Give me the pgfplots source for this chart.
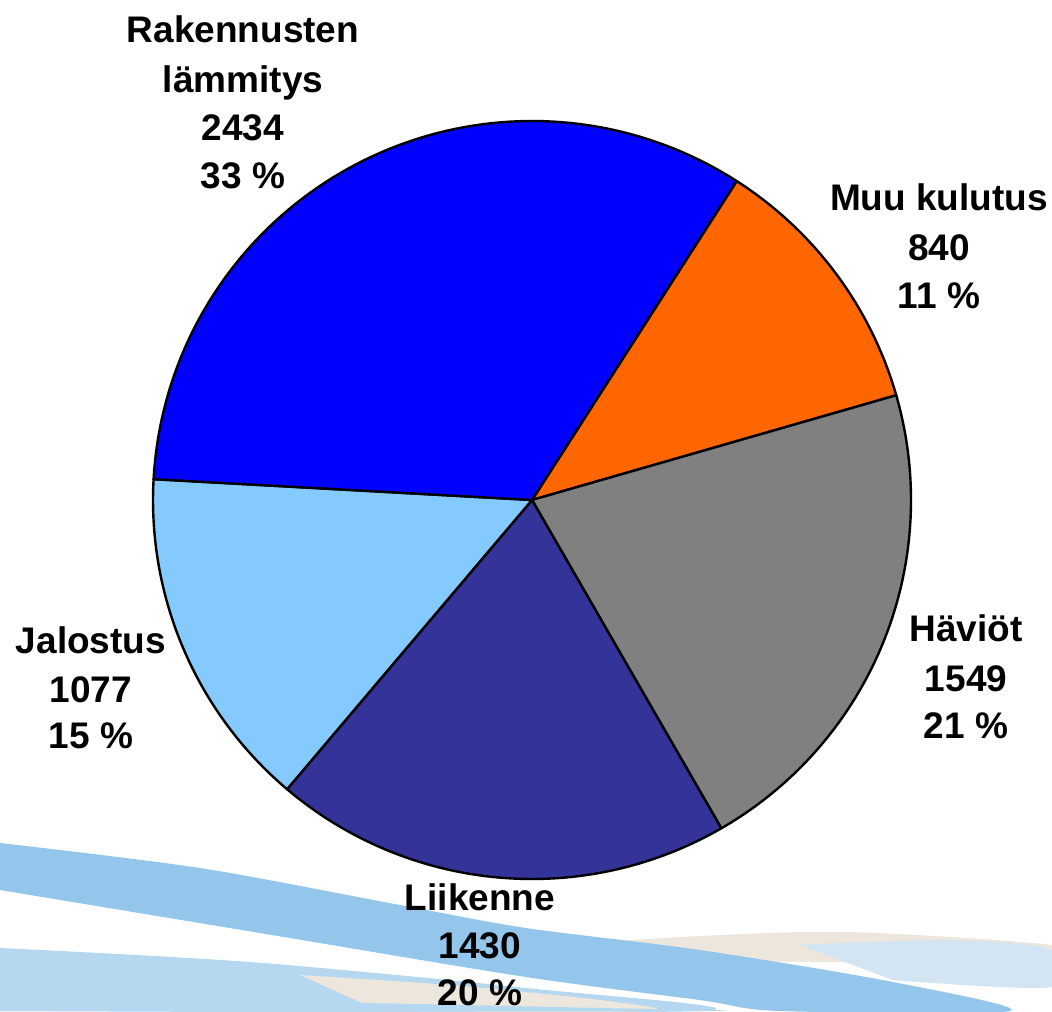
\documentclass[border=0pt]{standalone}
\usepackage{fontspec}
\setmainfont{Liberation Sans}
\usepackage{pgfplots}
\pgfplotsset{compat=1.18}
\usepackage{pgfplotstable}

% slice colours, in table order
\definecolor{pie0}{HTML}{FF6600}% Muu kulutus
\definecolor{pie1}{HTML}{808080}% Haviot
\definecolor{pie2}{HTML}{333399}% Liikenne
\definecolor{pie3}{HTML}{85CAFF}% Jalostus
\definecolor{pie4}{HTML}{0000FF}% Rakennusten lammitys
\definecolor{swooshA}{HTML}{93C6EA}
\definecolor{swooshB}{HTML}{B6D7F0}
\definecolor{swooshC}{HTML}{D3E5F2}
\definecolor{swooshBeige}{HTML}{ECE6DC}

% slices clockwise, starting at the top-right boundary
\pgfplotstableread{
name value
Muu 840
Haviot 1549
Liikenne 1430
Jalostus 1077
Rakennusten 2434
}\pietable

\def\startang{57.3}
\def\cx{532}\def\cy{500}\def\rr{379}

% total and slice angles
\def\tot{0}
\foreach \i in {0,...,4}{%
  \pgfplotstablegetelem{\i}{value}\of\pietable
  \pgfmathsetmacro\t{\tot+\pgfplotsretval}%
  \xdef\tot{\t}%
}
\xdef\cum{\startang}
\foreach \i in {0,...,4}{%
  \pgfplotstablegetelem{\i}{value}\of\pietable
  \pgfmathsetmacro\e{\cum-360*(\pgfplotsretval/\tot)}%
  \expandafter\xdef\csname aS\i\endcsname{\cum}%
  \expandafter\xdef\csname aE\i\endcsname{\e}%
  \xdef\cum{\e}%
}

\newcommand\lbl{\fontsize{18.5}{24}\selectfont\bfseries}

\begin{document}
\begin{tikzpicture}
\begin{axis}[
    width=526pt, height=505.5pt,
    scale only axis,
    xmin=0, xmax=1052,
    ymin=0, ymax=1011,
    y dir=reverse,
    hide axis,
]
% frame for the bounding box
\addplot[draw=none] coordinates {(0,0) (1052,1011)};

% background swooshes
\addplot[draw=none, fill=swooshBeige, smooth] coordinates {
  (560,945) (700,936) (850,932) (1052,945) (1052,960) (850,962) (650,960)} -- cycle;
\addplot[draw=none, fill=swooshC, smooth] coordinates {
  (800,945) (950,940) (1052,950) (1052,987) (893,980)} -- cycle;
\addplot[draw=none, fill=swooshB, smooth] coordinates {
  (0,948) (250,962) (526,988) (700,1011) (0,1011)} -- cycle;
\addplot[draw=none, fill=swooshBeige, smooth] coordinates {
  (300,975) (450,985) (600,1000) (650,1011) (380,1011)} -- cycle;
\addplot[draw=none, fill=swooshB, smooth] coordinates {
  (0,1001) (300,1002) (600,1008) (700,1011) (0,1011)} -- cycle;
\addplot[draw=none, fill=swooshA, smooth] coordinates {
  (0,843) (200,868) (400,905) (526,928) (700,950) (893,982) (1010,1011)
  (780,1011) (700,1000) (526,977) (260,933) (0,890)} -- cycle;

% pie slices
\pgfplotsinvokeforeach{0,...,4}{
  \addplot[draw=black, line width=1.2pt, line join=round, fill=pie#1,
    domain=\csname aE#1\endcsname:\csname aS#1\endcsname, samples=90, variable=\t]
    ({\cx+\rr*cos(\t)}, {\cy-\rr*sin(\t)}) -- (\cx,\cy) -- cycle;
}

% labels
\node[font=\lbl, anchor=base] at (243,43)  {Rakennusten};
\node[font=\lbl, anchor=base] at (243,92)  {lämmitys};
\node[font=\lbl, anchor=base] at (243,140) {2434};
\node[font=\lbl, anchor=base] at (243,188) {33 \%};

\node[font=\lbl, anchor=base] at (939,210) {Muu kulutus};
\node[font=\lbl, anchor=base] at (939,260) {840};
\node[font=\lbl, anchor=base] at (939,308) {11 \%};

\node[font=\lbl, anchor=base] at (966,641) {Häviöt};
\node[font=\lbl, anchor=base] at (966,691) {1549};
\node[font=\lbl, anchor=base] at (966,738) {21 \%};

\node[font=\lbl, anchor=base] at (91,653) {Jalostus};
\node[font=\lbl, anchor=base] at (91,702) {1077};
\node[font=\lbl, anchor=base] at (91,748) {15 \%};

\node[font=\lbl, anchor=base] at (480,910)  {Liikenne};
\node[font=\lbl, anchor=base] at (480,958)  {1430};
\node[font=\lbl, anchor=base] at (480,1005) {20 \%};
\end{axis}
\end{tikzpicture}
\end{document}
